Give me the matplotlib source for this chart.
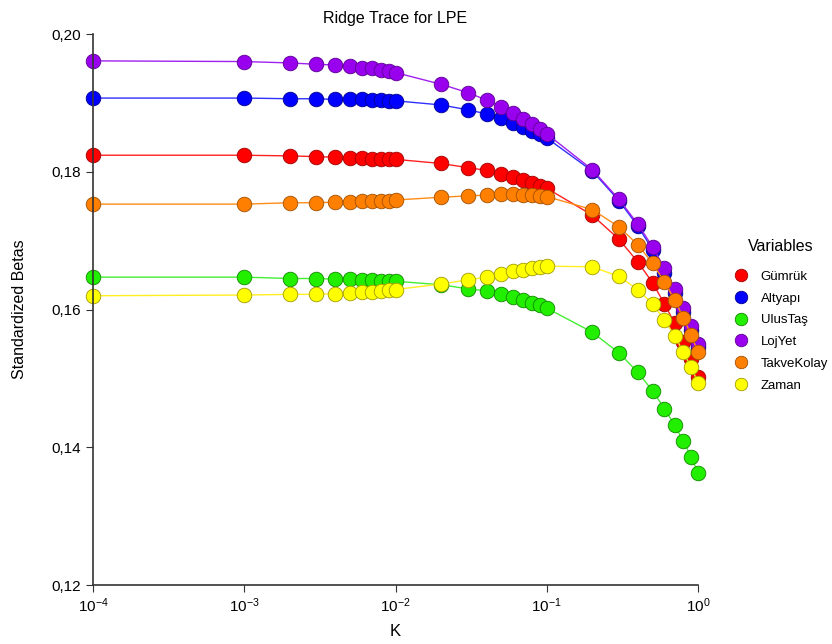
import matplotlib.pyplot as plt
from matplotlib.ticker import FuncFormatter, NullLocator

plt.rcParams['font.family'] = ['Liberation Sans', 'DejaVu Sans']

# ridge parameter K
k = [1e-4, 1e-3, 2e-3, 3e-3, 4e-3, 5e-3, 6e-3, 7e-3, 8e-3, 9e-3,
     1e-2, 2e-2, 3e-2, 4e-2, 5e-2, 6e-2, 7e-2, 8e-2, 9e-2,
     0.1, 0.2, 0.3, 0.4, 0.5, 0.6, 0.7, 0.8, 0.9, 1.0]

gumruk = [0.1824, 0.1824, 0.1823, 0.1822, 0.1821, 0.1820, 0.1820, 0.1819, 0.1818, 0.1818,
          0.1818, 0.1812, 0.1806, 0.1802, 0.1797, 0.1792, 0.1788, 0.1784, 0.1780,
          0.1776, 0.1737, 0.1702, 0.1669, 0.1639, 0.1608, 0.1580, 0.1553, 0.1528, 0.1502]
altyapi = [0.1907, 0.1907, 0.1906, 0.1906, 0.1905, 0.1905, 0.1905, 0.1904, 0.1904, 0.1903,
           0.1903, 0.1897, 0.1890, 0.1884, 0.1878, 0.1871, 0.1865, 0.1859, 0.1855,
           0.1849, 0.1801, 0.1758, 0.1721, 0.1687, 0.1653, 0.1624, 0.1596, 0.1570, 0.1546]
ulustas = [0.1647, 0.1647, 0.1645, 0.1645, 0.1644, 0.1644, 0.1643, 0.1643, 0.1642, 0.1642,
           0.1641, 0.1636, 0.1630, 0.1627, 0.1622, 0.1618, 0.1614, 0.1610, 0.1606,
           0.1602, 0.1567, 0.1537, 0.1509, 0.1482, 0.1456, 0.1432, 0.1409, 0.1386, 0.1363]
lojyet = [0.1961, 0.1960, 0.1958, 0.1956, 0.1955, 0.1953, 0.1951, 0.1950, 0.1948, 0.1947,
          0.1944, 0.1927, 0.1915, 0.1904, 0.1894, 0.1885, 0.1877, 0.1869, 0.1862,
          0.1855, 0.1803, 0.1760, 0.1724, 0.1691, 0.1660, 0.1630, 0.1602, 0.1576, 0.1550]
takvekolay = [0.1753, 0.1753, 0.1755, 0.1755, 0.1756, 0.1756, 0.1757, 0.1757, 0.1758, 0.1758,
              0.1759, 0.1763, 0.1765, 0.1766, 0.1767, 0.1767, 0.1766, 0.1766, 0.1765,
              0.1764, 0.1745, 0.1720, 0.1694, 0.1667, 0.1640, 0.1614, 0.1588, 0.1563, 0.1538]
zaman = [0.1620, 0.1621, 0.1622, 0.1622, 0.1623, 0.1624, 0.1625, 0.1626, 0.1627, 0.1628,
         0.1629, 0.1637, 0.1643, 0.1647, 0.1652, 0.1656, 0.1658, 0.1660, 0.1662,
         0.1663, 0.1662, 0.1648, 0.1629, 0.1608, 0.1585, 0.1562, 0.1538, 0.1516, 0.1494]

names = ['Gümrük', 'Altyapı', 'UlusTaş', 'LojYet', 'TakveKolay', 'Zaman']
series = [gumruk, altyapi, ulustas, lojyet, takvekolay, zaman]
fills = ['#ff0000', '#0000ff', '#22ee00', '#9900ee', '#ff8000', '#ffff00']
lines = ['#ff2020', '#3030ff', '#44ee33', '#a020f0', '#ff8c1a', '#ffee20']
edges = ['#a00000', '#000090', '#108800', '#5a0090', '#a05000', '#a09a00']

fig = plt.figure(figsize=(8.32, 6.44), dpi=100)
ax = fig.add_axes([0.1118, 0.0916, 0.7272, 0.8556])

for name, y, fc, lc, ec in zip(names, series, fills, lines, edges):
    ax.plot(k, y, '-', color=lc, lw=1.0, marker='o', markersize=10.5,
            markerfacecolor=fc, markeredgecolor=ec, markeredgewidth=0.6,
            label=name, clip_on=False)

ax.set_xscale('log')
ax.set_xlim(1e-4, 1.0)
ax.set_ylim(0.12, 0.20)
ax.set_yticks([0.12, 0.14, 0.16, 0.18, 0.20])
ax.yaxis.set_major_formatter(FuncFormatter(lambda v, p: f'{v:.2f}'.replace('.', ',')))
ax.xaxis.set_minor_locator(NullLocator())

for s in ['top', 'right']:
    ax.spines[s].set_visible(False)
for s in ['left', 'bottom']:
    ax.spines[s].set_color('#333333')
    ax.spines[s].set_linewidth(1.2)
ax.tick_params(direction='out', length=5, color='#333333', labelsize=11)

ax.set_title('Ridge Trace for LPE', fontsize=11.5, pad=8)
ax.set_xlabel('K', fontsize=12, labelpad=6)
ax.set_ylabel('Standardized Betas', fontsize=11.5, labelpad=18)

leg = ax.legend(loc='upper left', bbox_to_anchor=(1.04, 0.6496), frameon=False,
                title='Variables', fontsize=9.5, title_fontsize=11.5,
                handlelength=1.0, handletextpad=1.0, labelspacing=0.72)
leg._legend_box.sep = 12  # more room under the title
for h in leg.legend_handles:
    h.set_linestyle('none')
    h.set_markersize(9)

fig.savefig('out.png', dpi=100)
